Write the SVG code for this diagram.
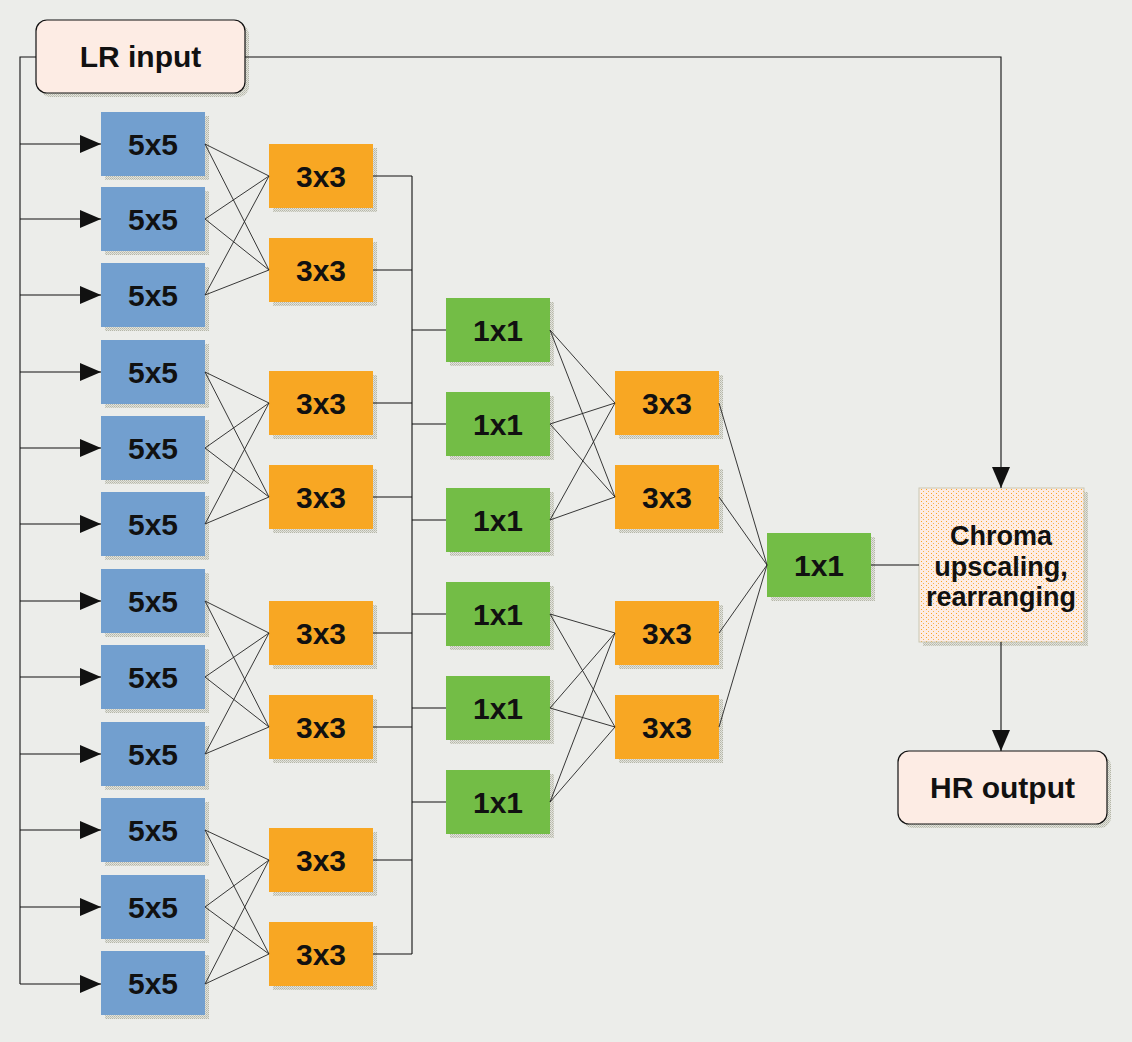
<svg xmlns="http://www.w3.org/2000/svg" width="1132" height="1042" viewBox="0 0 1132 1042">
<defs>
<style>
.t{font-family:"Liberation Sans",Arial,sans-serif;font-weight:bold;font-size:30px;fill:#111;text-anchor:middle}
.t2{font-family:"Liberation Sans",Arial,sans-serif;font-weight:bold;font-size:27px;fill:#111;text-anchor:middle}
.b5{fill:#729FCF}
.o3{fill:#F8A723}
.g1{fill:#73BD46}
.sh{fill:url(#shd)}
.c{stroke:#111;stroke-width:1.1;fill:none}
.cx{stroke:#222;stroke-width:0.9;fill:none}
.term{fill:#FDECE4;stroke:#111;stroke-width:1.2}
</style>
<pattern id="shd" width="2" height="2" patternUnits="userSpaceOnUse">
<rect width="2" height="2" fill="#E2E3DD"/>
<rect width="1" height="1" fill="#B5B6A8"/>
<rect x="1" y="1" width="1" height="1" fill="#C4C5B8"/>
</pattern>
<pattern id="dots" width="5" height="4" patternUnits="userSpaceOnUse">
<rect width="5" height="4" fill="#FDECE4"/>
<rect x="1" y="1" width="1" height="1" fill="#F7A628"/>
<rect x="3" y="3" width="1" height="1" fill="#F9B54A"/>
</pattern>
<marker id="ah" markerUnits="userSpaceOnUse" markerWidth="22" markerHeight="19" refX="21" refY="9.500" orient="auto">
<path d="M0,0.500 L21,9.500 L0,18.500 z" fill="#111"/>
</marker>
</defs>
<rect width="1132" height="1042" fill="#ECEDEA"/>

<g id="lr_input">
<rect x="40" y="24" width="209" height="73" rx="11" class="sh"/>
<rect x="36" y="20" width="209" height="73" rx="11" class="term"/>
<text x="140.500" y="67" class="t">LR input</text>
</g>

<g id="conv5_1"><rect class="sh" x="105" y="116" width="104" height="64"/><rect class="b5" x="101" y="112" width="104" height="64"/><text class="t" x="153" y="155">5x5</text></g>
<g id="conv5_2"><rect class="sh" x="105" y="191" width="104" height="64"/><rect class="b5" x="101" y="187" width="104" height="64"/><text class="t" x="153" y="230">5x5</text></g>
<g id="conv5_3"><rect class="sh" x="105" y="267" width="104" height="64"/><rect class="b5" x="101" y="263" width="104" height="64"/><text class="t" x="153" y="306">5x5</text></g>
<g id="conv5_4"><rect class="sh" x="105" y="344" width="104" height="64"/><rect class="b5" x="101" y="340" width="104" height="64"/><text class="t" x="153" y="383">5x5</text></g>
<g id="conv5_5"><rect class="sh" x="105" y="420" width="104" height="64"/><rect class="b5" x="101" y="416" width="104" height="64"/><text class="t" x="153" y="459">5x5</text></g>
<g id="conv5_6"><rect class="sh" x="105" y="496" width="104" height="64"/><rect class="b5" x="101" y="492" width="104" height="64"/><text class="t" x="153" y="535">5x5</text></g>
<g id="conv5_7"><rect class="sh" x="105" y="573" width="104" height="64"/><rect class="b5" x="101" y="569" width="104" height="64"/><text class="t" x="153" y="612">5x5</text></g>
<g id="conv5_8"><rect class="sh" x="105" y="649" width="104" height="64"/><rect class="b5" x="101" y="645" width="104" height="64"/><text class="t" x="153" y="688">5x5</text></g>
<g id="conv5_9"><rect class="sh" x="105" y="726" width="104" height="64"/><rect class="b5" x="101" y="722" width="104" height="64"/><text class="t" x="153" y="765">5x5</text></g>
<g id="conv5_10"><rect class="sh" x="105" y="802" width="104" height="64"/><rect class="b5" x="101" y="798" width="104" height="64"/><text class="t" x="153" y="841">5x5</text></g>
<g id="conv5_11"><rect class="sh" x="105" y="879" width="104" height="64"/><rect class="b5" x="101" y="875" width="104" height="64"/><text class="t" x="153" y="918">5x5</text></g>
<g id="conv5_12"><rect class="sh" x="105" y="955" width="104" height="64"/><rect class="b5" x="101" y="951" width="104" height="64"/><text class="t" x="153" y="994">5x5</text></g>

<g id="conv3a_1"><rect class="sh" x="273" y="148" width="104" height="64"/><rect class="o3" x="269" y="144" width="104" height="64"/><text class="t" x="321" y="187">3x3</text></g>
<g id="conv3a_2"><rect class="sh" x="273" y="242" width="104" height="64"/><rect class="o3" x="269" y="238" width="104" height="64"/><text class="t" x="321" y="281">3x3</text></g>
<g id="conv3a_3"><rect class="sh" x="273" y="375" width="104" height="64"/><rect class="o3" x="269" y="371" width="104" height="64"/><text class="t" x="321" y="414">3x3</text></g>
<g id="conv3a_4"><rect class="sh" x="273" y="469" width="104" height="64"/><rect class="o3" x="269" y="465" width="104" height="64"/><text class="t" x="321" y="508">3x3</text></g>
<g id="conv3a_5"><rect class="sh" x="273" y="605" width="104" height="64"/><rect class="o3" x="269" y="601" width="104" height="64"/><text class="t" x="321" y="644">3x3</text></g>
<g id="conv3a_6"><rect class="sh" x="273" y="699" width="104" height="64"/><rect class="o3" x="269" y="695" width="104" height="64"/><text class="t" x="321" y="738">3x3</text></g>
<g id="conv3a_7"><rect class="sh" x="273" y="832" width="104" height="64"/><rect class="o3" x="269" y="828" width="104" height="64"/><text class="t" x="321" y="871">3x3</text></g>
<g id="conv3a_8"><rect class="sh" x="273" y="926" width="104" height="64"/><rect class="o3" x="269" y="922" width="104" height="64"/><text class="t" x="321" y="965">3x3</text></g>

<g id="conv1_1"><rect class="sh" x="450" y="302" width="104" height="64"/><rect class="g1" x="446" y="298" width="104" height="64"/><text class="t" x="498" y="341">1x1</text></g>
<g id="conv1_2"><rect class="sh" x="450" y="396" width="104" height="64"/><rect class="g1" x="446" y="392" width="104" height="64"/><text class="t" x="498" y="435">1x1</text></g>
<g id="conv1_3"><rect class="sh" x="450" y="492" width="104" height="64"/><rect class="g1" x="446" y="488" width="104" height="64"/><text class="t" x="498" y="531">1x1</text></g>
<g id="conv1_4"><rect class="sh" x="450" y="586" width="104" height="64"/><rect class="g1" x="446" y="582" width="104" height="64"/><text class="t" x="498" y="625">1x1</text></g>
<g id="conv1_5"><rect class="sh" x="450" y="680" width="104" height="64"/><rect class="g1" x="446" y="676" width="104" height="64"/><text class="t" x="498" y="719">1x1</text></g>
<g id="conv1_6"><rect class="sh" x="450" y="774" width="104" height="64"/><rect class="g1" x="446" y="770" width="104" height="64"/><text class="t" x="498" y="813">1x1</text></g>

<g id="conv3b_1"><rect class="sh" x="619" y="375" width="104" height="64"/><rect class="o3" x="615" y="371" width="104" height="64"/><text class="t" x="667" y="414">3x3</text></g>
<g id="conv3b_2"><rect class="sh" x="619" y="469" width="104" height="64"/><rect class="o3" x="615" y="465" width="104" height="64"/><text class="t" x="667" y="508">3x3</text></g>
<g id="conv3b_3"><rect class="sh" x="619" y="605" width="104" height="64"/><rect class="o3" x="615" y="601" width="104" height="64"/><text class="t" x="667" y="644">3x3</text></g>
<g id="conv3b_4"><rect class="sh" x="619" y="699" width="104" height="64"/><rect class="o3" x="615" y="695" width="104" height="64"/><text class="t" x="667" y="738">3x3</text></g>

<g id="conv1_final"><rect class="sh" x="771" y="537" width="104" height="64"/><rect class="g1" x="767" y="533" width="104" height="64"/><text class="t" x="819" y="576">1x1</text></g>

<g id="chroma">
<rect class="sh" x="923" y="492" width="165" height="154"/>
<rect x="919" y="488" width="165" height="154" fill="url(#dots)" stroke="#C9C8B2" stroke-width="1"/>
<text class="t2" x="1001" y="545">Chroma</text>
<text class="t2" x="1001" y="576">upscaling,</text>
<text class="t2" x="1001" y="606">rearranging</text>
</g>

<g id="hr_output">
<rect x="902" y="755" width="209" height="73" rx="11" class="sh"/>
<rect x="898" y="751" width="209" height="73" rx="11" class="term"/>
<text x="1002.500" y="798" class="t">HR output</text>
</g>

<g id="connectors">
<polyline class="c" points="36,57 20,57 20,984"/>
<polyline class="c" points="245,57 1001,57 1001,488" marker-end="url(#ah)"/>
<line class="c" x1="20" y1="144" x2="101" y2="144" marker-end="url(#ah)"/>
<line class="c" x1="20" y1="219" x2="101" y2="219" marker-end="url(#ah)"/>
<line class="c" x1="20" y1="295" x2="101" y2="295" marker-end="url(#ah)"/>
<line class="c" x1="20" y1="372" x2="101" y2="372" marker-end="url(#ah)"/>
<line class="c" x1="20" y1="448" x2="101" y2="448" marker-end="url(#ah)"/>
<line class="c" x1="20" y1="524" x2="101" y2="524" marker-end="url(#ah)"/>
<line class="c" x1="20" y1="601" x2="101" y2="601" marker-end="url(#ah)"/>
<line class="c" x1="20" y1="677" x2="101" y2="677" marker-end="url(#ah)"/>
<line class="c" x1="20" y1="754" x2="101" y2="754" marker-end="url(#ah)"/>
<line class="c" x1="20" y1="830" x2="101" y2="830" marker-end="url(#ah)"/>
<line class="c" x1="20" y1="907" x2="101" y2="907" marker-end="url(#ah)"/>
<line class="c" x1="20" y1="984" x2="101" y2="984" marker-end="url(#ah)"/>

<path class="cx" d="M205,144 L269,176 M205,144 L269,270 M205,219 L269,176 M205,219 L269,270 M205,295 L269,176 M205,295 L269,270"/>
<path class="cx" d="M205,372 L269,403 M205,372 L269,497 M205,448 L269,403 M205,448 L269,497 M205,524 L269,403 M205,524 L269,497"/>
<path class="cx" d="M205,601 L269,633 M205,601 L269,727 M205,677 L269,633 M205,677 L269,727 M205,754 L269,633 M205,754 L269,727"/>
<path class="cx" d="M205,830 L269,860 M205,830 L269,954 M205,907 L269,860 M205,907 L269,954 M205,984 L269,860 M205,984 L269,954"/>

<path class="c" d="M412,176 L412,954 M373,176 L412,176 M373,270 L412,270 M373,403 L412,403 M373,497 L412,497 M373,633 L412,633 M373,727 L412,727 M373,860 L412,860 M373,954 L412,954"/>
<path class="c" d="M412,330 L446,330 M412,424 L446,424 M412,520 L446,520 M412,614 L446,614 M412,708 L446,708 M412,802 L446,802"/>

<path class="cx" d="M550,330 L615,403 M550,330 L615,497 M550,424 L615,403 M550,424 L615,497 M550,520 L615,403 M550,520 L615,497"/>
<path class="cx" d="M550,614 L615,633 M550,614 L615,727 M550,708 L615,633 M550,708 L615,727 M550,802 L615,633 M550,802 L615,727"/>

<path class="cx" d="M719,403 L767,565 M719,497 L767,565 M719,633 L767,565 M719,727 L767,565"/>
<line class="c" x1="871" y1="565" x2="919" y2="565"/>
<line class="c" x1="1001" y1="642" x2="1001" y2="751" marker-end="url(#ah)"/>
</g>
</svg>
